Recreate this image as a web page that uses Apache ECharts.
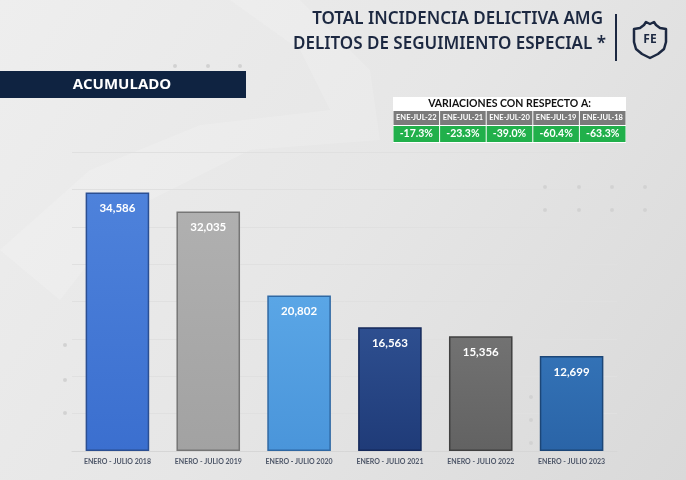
<!DOCTYPE html>
<html><head><meta charset="utf-8">
<script src="https://cdn.jsdelivr.net/npm/echarts@6/dist/echarts.min.js"></script>
<style>html,body{margin:0;padding:0;}#c{width:686px;height:480px;}</style>
</head><body><div id="c"></div>
<script>
const categories = ['ENERO - JULIO 2018','ENERO - JULIO 2019','ENERO - JULIO 2020','ENERO - JULIO 2021','ENERO - JULIO 2022','ENERO - JULIO 2023'];
const values = [34586, 32035, 20802, 16563, 15356, 12699];
const barColors = [['#4e82db','#3b6fcf','#2b4f92'],['#b0b0b0','#a2a2a2','#767676'],['#5aa6e6','#4a95da','#2f68a3'],['#2e4f90','#1f3b78','#15295a'],['#727272','#626262','#404040'],['#3372b6','#2a64a7','#1c4677']];
const tableTitle = 'VARIACIONES CON RESPECTO A:';
const tableHeads = ['ENE-JUL-22','ENE-JUL-21','ENE-JUL-20','ENE-JUL-19','ENE-JUL-18'];
const tableVals = ['-17.3%','-23.3%','-39.0%','-60.4%','-63.3%'];
const titleLines = ['TOTAL INCIDENCIA DELICTIVA AMG','DELITOS DE SEGUIMIENTO ESPECIAL *'];
const bannerText = 'ACUMULADO';

const chart = echarts.init(document.getElementById('c'));
const G = [];
G.push({type:'rect',shape:{x:0,y:0,width:686,height:480},z:-10,silent:true,
  style:{fill:new echarts.graphic.LinearGradient(0,0,1,1,[{offset:0,color:'#eeeeee'},{offset:0.5,color:'#e6e6e6'},{offset:1,color:'#d9d9d9'}])}});
G.push({type:'polygon',z:-9,silent:true,shape:{points:[[0,250],[90,170],[200,125],[330,110],[300,50],[230,0],[300,0],[370,70],[380,140],[250,150],[130,210],[60,300]]},style:{fill:'rgba(255,255,255,0.15)'}});
const dots=[[175,66],[208,66],[240,66],[545,187],[579,187],[612,187],[645,187],[545,210],[579,210],[612,210],[645,210],[327,310],[327,343],[531,397],[531,420],[531,443],[65,345],[65,380],[65,413]];
dots.forEach(d=>G.push({type:'circle',z:-8,silent:true,shape:{cx:d[0],cy:d[1],r:2},style:{fill:'#d2d2d2'}}));
G.push({type:'text',style:{x:603,y:19,text:titleLines[0],align:'right',verticalAlign:'middle',font:'600 17px "Noto Sans"',fill:'#1c2841'}});
G.push({type:'text',style:{x:606,y:44,text:titleLines[1],align:'right',verticalAlign:'middle',font:'600 17px "Noto Sans"',fill:'#1c2841'}});
G.push({type:'line',shape:{x1:616,y1:14,x2:616,y2:61},style:{stroke:'#1c2841',lineWidth:2}});
G.push({type:'polygon',shape:{points:[[634,29],[640,28],[644,25],[646,22],[650,24],[654,22],[656,25],[660,28],[666,29],[666,42],[664,49],[658,54],[650,58],[642,54],[636,49],[634,42]]},style:{fill:'none',stroke:'#1c2841',lineWidth:2.5,lineJoin:'round'}});
G.push({type:'text',style:{x:650,y:40,text:'FE',align:'center',verticalAlign:'middle',font:'bold 12px "Noto Sans"',fill:'#1c2841'}});
G.push({type:'rect',shape:{x:0,y:71,width:246,height:27},style:{fill:'#0f2341'}});
G.push({type:'text',style:{x:122,y:85,text:bannerText,align:'center',verticalAlign:'middle',font:'bold 15px "Open Sans"',fill:'#ffffff'}});
const tx=393, tw=233, cw=tw/5;
G.push({type:'rect',shape:{x:tx,y:97,width:tw,height:46},style:{fill:'#ffffff'}});
G.push({type:'text',style:{x:tx+tw/2,y:104,text:tableTitle,align:'center',verticalAlign:'middle',font:'bold 10.5px Lato',fill:'#111111'}});
tableHeads.forEach((h,i)=>{
  G.push({type:'rect',shape:{x:tx+i*cw+0.5,y:111,width:cw-1,height:14},style:{fill:'#7b7b7b'}});
  G.push({type:'text',style:{x:tx+i*cw+cw/2,y:118,text:h,align:'center',verticalAlign:'middle',font:'bold 7.5px Lato',fill:'#ffffff'}});
  G.push({type:'rect',shape:{x:tx+i*cw+0.5,y:126,width:cw-1,height:16},style:{fill:'#21b04b'}});
  G.push({type:'text',style:{x:tx+i*cw+cw/2,y:134,text:tableVals[i],align:'center',verticalAlign:'middle',font:'bold 10.5px Lato',fill:'#ffffff'}});
});

chart.setOption({
  animation:false,
  grid:{left:72,right:69,top:152,bottom:29},
  xAxis:{type:'category',data:categories,axisTick:{show:false},
    axisLine:{lineStyle:{color:'#d6d6d6'}},
    axisLabel:{interval:0,color:'#4d5668',fontSize:7,fontWeight:'bold',fontFamily:'Lato',margin:7}},
  yAxis:{type:'value',min:0,max:40000,interval:5000,axisLabel:{show:false},axisLine:{show:false},axisTick:{show:false},
    splitLine:{lineStyle:{color:'#e0e0e0',width:1}}},
  series:[{type:'bar',barCategoryGap:'30%',
    data:values.map((v,i)=>({value:v,itemStyle:{
      color:new echarts.graphic.LinearGradient(0,0,0,1,[{offset:0,color:barColors[i][0]},{offset:1,color:barColors[i][1]}]),
      borderColor:barColors[i][2],borderWidth:1.5}})),
    label:{show:true,position:'insideTop',distance:10,color:'#ffffff',fontSize:11.5,fontWeight:'bold',fontFamily:'Lato',
      formatter:p=>p.value.toLocaleString('en-US')}}],
  graphic:G
});
</script></body></html>
